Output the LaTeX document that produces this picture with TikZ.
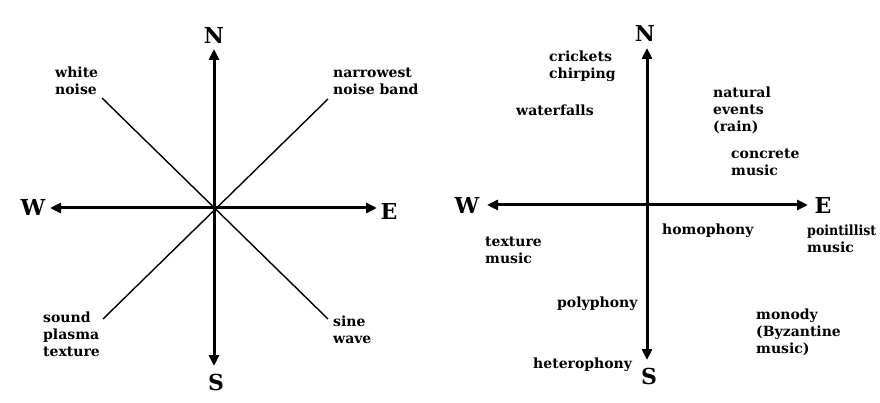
\documentclass[tikz,border=0pt]{standalone}
\usepackage{fontspec}
\setmainfont{DejaVu Serif}
\usetikzlibrary{arrows.meta}
\tikzset{
  axis/.style={line width=3pt,{Triangle[length=11pt,width=10pt]}-{Triangle[length=11pt,width=10pt]}},
  diag/.style={line width=1.4pt},
  dirlbl/.style={font=\fontsize{22}{24}\selectfont\bfseries,inner sep=0pt},
  lbl/.style={font=\fontsize{14}{17}\selectfont\bfseries,inner sep=0pt,anchor=north west,align=left},
}
\begin{document}
\begin{tikzpicture}[x=1pt,y=-1pt]
\useasboundingbox[fill=white] (0,0) rectangle (880,403);
% ---------- left compass ----------
\coordinate (c1) at (214,208);
\coordinate (n1) at (214,49);
\coordinate (s1) at (214,366);
\coordinate (w1) at (50,208);
\coordinate (e1) at (377,208);
\coordinate (nw1) at (102,98);
\coordinate (ne1) at (328,99);
\coordinate (sw1) at (103,319);
\coordinate (se1) at (328,319);
\draw[axis] (s1) -- (n1);
\draw[axis] (w1) -- (e1);
\draw[diag] (nw1) -- (se1);
\draw[diag] (ne1) -- (sw1);
\node[dirlbl] (N1) at (214,35) {N};
\node[dirlbl] (S1) at (216,382) {S};
\node[dirlbl] (W1) at (33,207) {W};
\node[dirlbl] (E1) at (389,211) {E};
\node[lbl] (wn) at (55,67) {white\\noise};
\node[lbl] (nnb) at (333,68) {narrowest\\noise band};
\node[lbl] (spt) at (43,312) {sound\\plasma\\texture};
\node[lbl] (sw) at (333,316) {sine\\wave};
% ---------- right compass ----------
\coordinate (c2) at (647,205);
\coordinate (n2) at (647,48);
\coordinate (s2) at (647,360);
\coordinate (w2) at (487,205);
\coordinate (e2) at (808,205);
\draw[axis] (s2) -- (n2);
\draw[axis] (w2) -- (e2);
\node[dirlbl] (N2) at (645,33) {N};
\node[dirlbl] (S2) at (649,376) {S};
\node[dirlbl] (W2) at (467,205) {W};
\node[dirlbl] (E2) at (823,205) {E};
\node[lbl] (cc) at (549,51) {crickets\\chirping};
\node[lbl] (wf) at (516,105) {waterfalls};
\node[lbl] (ne) at (713,87) {natural\\events\\(rain)};
\node[lbl] (cm) at (731,149) {concrete\\music};
\node[lbl] (ho) at (662,224) {homophony};
\node[lbl] (pm) at (807,225) {\scalebox{0.9}[1]{pointillist}\\music};
\node[lbl] (tm) at (485,237) {texture\\music};
\node[lbl] (po) at (557,297) {polyphony};
\node[lbl] (mo) at (756,309) {monody\\(Byzantine\\music)};
\node[lbl] (he) at (533,358) {heterophony};
\end{tikzpicture}
\end{document}
